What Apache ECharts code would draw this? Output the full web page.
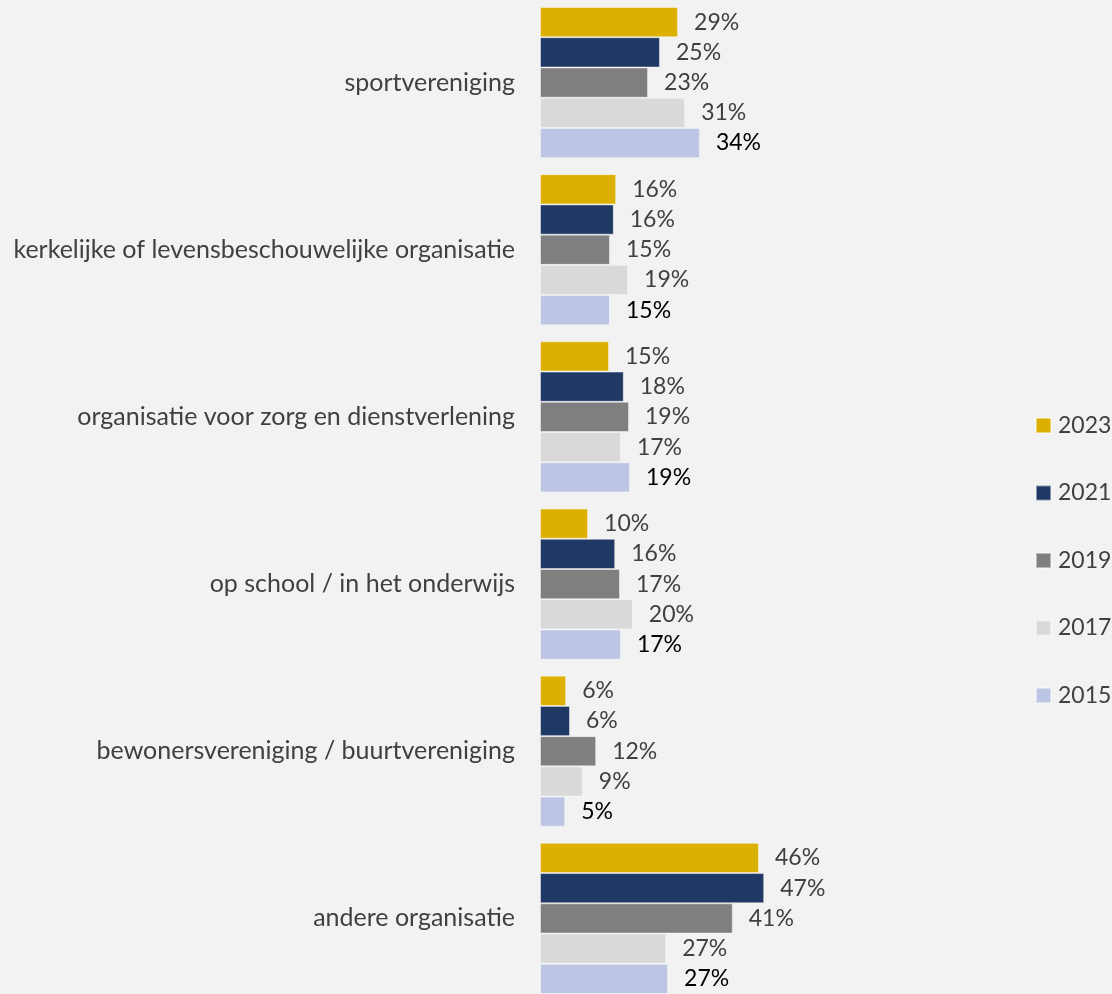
<!DOCTYPE html>
<html>
<head>
<meta charset="utf-8">
<script src="https://cdn.jsdelivr.net/npm/echarts@6/dist/echarts.min.js"></script>
<style>
  html, body { margin: 0; padding: 0; background: #f2f2f2; }
  #chart { width: 1112px; height: 994px; }
</style>
</head>
<body>
<div id="chart"></div>
<script>
// categories (top to bottom)
const categories = [
  "sportvereniging",
  "kerkelijke of levensbeschouwelijke organisatie",
  "organisatie voor zorg en dienstverlening",
  "op school / in het onderwijs",
  "bewonersvereniging / buurtvereniging",
  "andere organisatie"
];

const years = ["2023", "2021", "2019", "2017", "2015"];

// percentages per year
const v2023 = [29.0, 16.0, 14.5, 10.1, 5.5, 46.0];
const v2021 = [25.2, 15.5, 17.6, 15.8, 6.3, 47.1];
const v2019 = [22.7, 14.7, 18.7, 16.8, 11.8, 40.5];
const v2017 = [30.5, 18.5, 17.0, 19.5, 9.0, 26.5];
const v2015 = [33.6, 14.7, 18.9, 17.0, 5.3, 26.9];

const values = [v2023, v2021, v2019, v2017, v2015];
const colors = ["#dbb000", "#203864", "#7f7f7f", "#d9d9d9", "#bcc5e3"];
const labelColors = ["#404040", "#404040", "#404040", "#404040", "#000000"];

const FONT = "Lato";

const chart = echarts.init(document.getElementById("chart"));

const series = years.map((y, i) => ({
  name: y,
  type: "bar",
  data: values[i],
  barGap: "0%",
  barCategoryGap: "9.6%",
  itemStyle: {
    color: colors[i],
    borderColor: "rgba(255,255,255,0.45)",
    borderWidth: 1
  },
  label: {
    show: true,
    position: "right",
    distance: 16,
    fontFamily: FONT,
    fontSize: 23,
    color: labelColors[i],
    formatter: (p) => Math.round(p.value) + "%"
  },
  emphasis: { disabled: true }
}));

chart.setOption({
  backgroundColor: "#f2f2f2",
  animation: false,
  grid: {
    left: 540,
    width: 476,
    top: -1,
    height: 1003,
    containLabel: false,
    outerBoundsMode: "none"
  },
  legend: {
    orient: "vertical",
    left: 1035,
    top: 414,
    padding: 0,
    icon: "rect",
    itemWidth: 15,
    itemHeight: 15,
    itemGap: 44.5,
    textStyle: { fontFamily: FONT, fontSize: 23, color: "#404040", padding: [0, 0, 0, 2] },
    data: years
  },
  xAxis: {
    type: "value",
    min: 0,
    max: 100,
    show: false
  },
  yAxis: {
    type: "category",
    data: categories,
    inverse: true,
    axisLine: { show: false },
    axisTick: { show: false },
    axisLabel: {
      margin: 25,
      fontFamily: FONT,
      fontSize: 25,
      color: "#404040"
    }
  },
  series: series
});
</script>
</body>
</html>
